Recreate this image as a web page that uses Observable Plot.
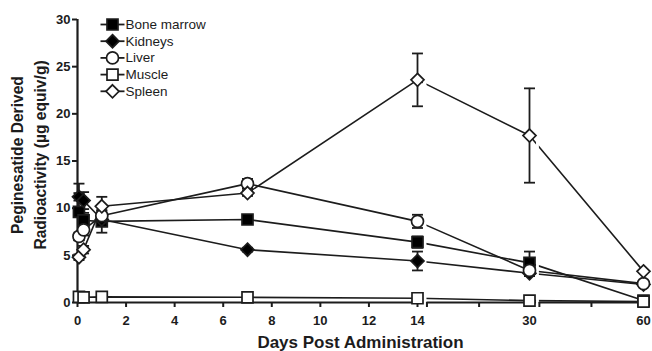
<!DOCTYPE html>
<html>
<head>
<meta charset="utf-8">
<script src="https://cdn.jsdelivr.net/npm/d3@7"></script>
<script src="https://cdn.jsdelivr.net/npm/@observablehq/plot@0.6"></script>
<style>
  html, body { margin: 0; padding: 0; background: white; }
</style>
</head>
<body>
<div id="chart"></div>
<script>
// ---- data ----
const days = [0.06, 0.25, 1, 7, 14, 30, 60];
const organs = ["Bone marrow", "Kidneys", "Liver", "Muscle", "Spleen"];
const boneMarrow   = [9.6, 8.7, 8.6, 8.8, 6.4, 4.2, 0.2];
const boneMarrowSD = [3.0, 0.8, 1.2, 0.4, 0.6, 1.2, 0];
const kidneys      = [11.2, 10.8, 8.8, 5.6, 4.4, 3.1, 1.9];
const kidneysSD    = [0.4, 0.9, 0.3, 0.2, 1.0, 0.3, 0];
const liver        = [7.0, 7.7, 9.2, 12.6, 8.6, 3.4, 2.0];
const liverSD      = [0.4, 0.6, 0.5, 0.5, 0.7, 0.4, 0];
const muscle       = [0.6, 0.55, 0.6, 0.55, 0.45, 0.2, 0.1];
const muscleSD     = [0, 0, 0, 0, 0, 0, 0];
const spleen       = [4.8, 5.6, 10.2, 11.6, 23.6, 17.7, 3.3];
const spleenSD     = [0.3, 0.4, 1.0, 0.3, 2.8, 5.0, 0];

const yTicks = [0, 5, 10, 15, 20, 25, 30];
const xTicksLabeled = [0, 2, 4, 6, 8, 10, 12, 14, 30, 60];
const xTicksMinor = [15.35, 22.8, 32.6, 46.3];      // unlabeled ticks on the broken axis
const xAxisSegments = [[0, 14.85], [15.35, 31.85], [32.6, 60]];
const xBreaks = [[14.85, 15.35], [31.85, 32.6]];

// ---- build table ----
const seriesDefs = [
  {name: "Bone marrow", values: boneMarrow, sd: boneMarrowSD, shape: "square",  fill: "black"},
  {name: "Kidneys",     values: kidneys,    sd: kidneysSD,    shape: "diamond", fill: "black"},
  {name: "Liver",       values: liver,      sd: liverSD,      shape: "circle",  fill: "white"},
  {name: "Muscle",      values: muscle,     sd: muscleSD,     shape: "square",  fill: "white"},
  {name: "Spleen",      values: spleen,     sd: spleenSD,     shape: "diamond", fill: "white"}
];
const rows = seriesDefs.flatMap(s => days.map((t, i) => ({organ: s.name, t, v: s.values[i], sd: s.sd[i]})));
const errRows = rows.filter(d => d.sd > 0);

// ---- custom symbols (size = PI r^2) ----
const rad = size => Math.sqrt(size / Math.PI);
const symbols = {
  square:  {draw(c, s) { const r = rad(s) * 0.86; c.rect(-r, -r, 2 * r, 2 * r); }},
  diamond: {draw(c, s) { const r = rad(s); c.moveTo(0, -r); c.lineTo(r, 0); c.lineTo(0, r); c.lineTo(-r, 0); c.closePath(); }},
  circle:  {draw(c, s) { const r = rad(s); c.moveTo(r, 0); c.arc(0, 0, r, 0, 2 * Math.PI); }},
  hline:   {draw(c, s) { const r = rad(s); c.moveTo(-r, 0); c.lineTo(r, 0); }}
};
const symR = shape => shape === "circle" ? 6 : shape === "diamond" ? 6.5 : 6.4;

const font = "'Liberation Sans', Arial, Helvetica, sans-serif";
const ink = "#1c1c1c";

const marks = [];
// data lines
marks.push(Plot.line(rows, {x: "t", y: "v", z: "organ", stroke: ink, strokeWidth: 1.6}));
// error bars
marks.push(Plot.ruleX(errRows, {x: "t", y1: d => d.v - d.sd, y2: d => d.v + d.sd, stroke: ink, strokeWidth: 1.8}));
marks.push(Plot.dot(errRows, {x: "t", y: d => d.v + d.sd, symbol: symbols.hline, r: 5.5, stroke: ink, strokeWidth: 1.8}));
marks.push(Plot.dot(errRows, {x: "t", y: d => d.v - d.sd, symbol: symbols.hline, r: 5.5, stroke: ink, strokeWidth: 1.8}));
// axis breaks (white gaps)
marks.push(Plot.rect(xBreaks, {x1: d => d[0], x2: d => d[1], y1: -0.4, y2: 30, fill: "white"}));
// axes
marks.push(Plot.ruleX([0], {y1: 0, y2: 30, stroke: ink, strokeWidth: 2.2}));
marks.push(Plot.ruleY(xAxisSegments, {x1: d => d[0], x2: d => d[1], y: 0, stroke: ink, strokeWidth: 2.2}));
marks.push(Plot.axisY({ticks: yTicks, tickSize: 5, tickPadding: 2, fontSize: 13, fontWeight: "bold", stroke: ink, strokeWidth: 2, fill: ink, label: null}));
marks.push(Plot.axisX({ticks: xTicksLabeled, tickSize: 5, tickPadding: 8, fontSize: 13, fontWeight: "bold", stroke: ink, strokeWidth: 2, fill: ink, label: null, tickFormat: d => String(d)}));
marks.push(Plot.axisX({ticks: xTicksMinor, tickSize: 5, stroke: ink, strokeWidth: 2, label: null, tickFormat: () => ""}));
// markers
seriesDefs.forEach(s => {
  marks.push(Plot.dot(rows.filter(d => d.organ === s.name), {
    x: "t", y: "v", symbol: symbols[s.shape], r: symR(s.shape),
    fill: s.fill, stroke: ink, strokeWidth: 1.7
  }));
});
// legend (inside plot, top-left)
seriesDefs.forEach((s, i) => {
  const dy = 5 + i * 16.7;
  marks.push(Plot.dot([s], {frameAnchor: "top-left", dx: 35, dy, symbol: symbols.hline, r: 12, stroke: ink, strokeWidth: 1.8}));
  marks.push(Plot.dot([s], {frameAnchor: "top-left", dx: 35, dy, symbol: symbols[s.shape], r: symR(s.shape), fill: s.fill, stroke: ink, strokeWidth: 1.7}));
  marks.push(Plot.text([s], {frameAnchor: "top-left", dx: 48, dy, text: d => d.name, textAnchor: "start", lineAnchor: "middle", fontSize: 13.5, fill: ink}));
});
// axis titles
marks.push(Plot.text(["Days Post Administration"], {frameAnchor: "bottom", dy: 40, text: d => d, textAnchor: "middle", lineAnchor: "middle", fontSize: 17, fontWeight: "bold", fill: ink}));
marks.push(Plot.text(["Peginesatide Derived"], {frameAnchor: "left", dx: -60, dy: -6, rotate: -90, text: d => d, textAnchor: "middle", lineAnchor: "middle", fontSize: 15.6, fontWeight: "bold", fill: ink}));
marks.push(Plot.text(["Radioactivity (µg equiv/g)"], {frameAnchor: "left", dx: -37, dy: -6, rotate: -90, text: d => d, textAnchor: "middle", lineAnchor: "middle", fontSize: 15.6, fontWeight: "bold", fill: ink}));

const chart = Plot.plot({
  width: 652,
  height: 351,
  marginLeft: 77,
  marginRight: 9,
  marginTop: 19,
  marginBottom: 49,
  style: {fontFamily: font, background: "white", color: ink, overflow: "visible"},
  x: {type: "linear", domain: [0, 14, 30, 60], range: [77, 417, 529, 643], axis: null},
  y: {domain: [0, 30], axis: null},
  marks
});
document.getElementById("chart").appendChild(chart);
</script>
</body>
</html>
